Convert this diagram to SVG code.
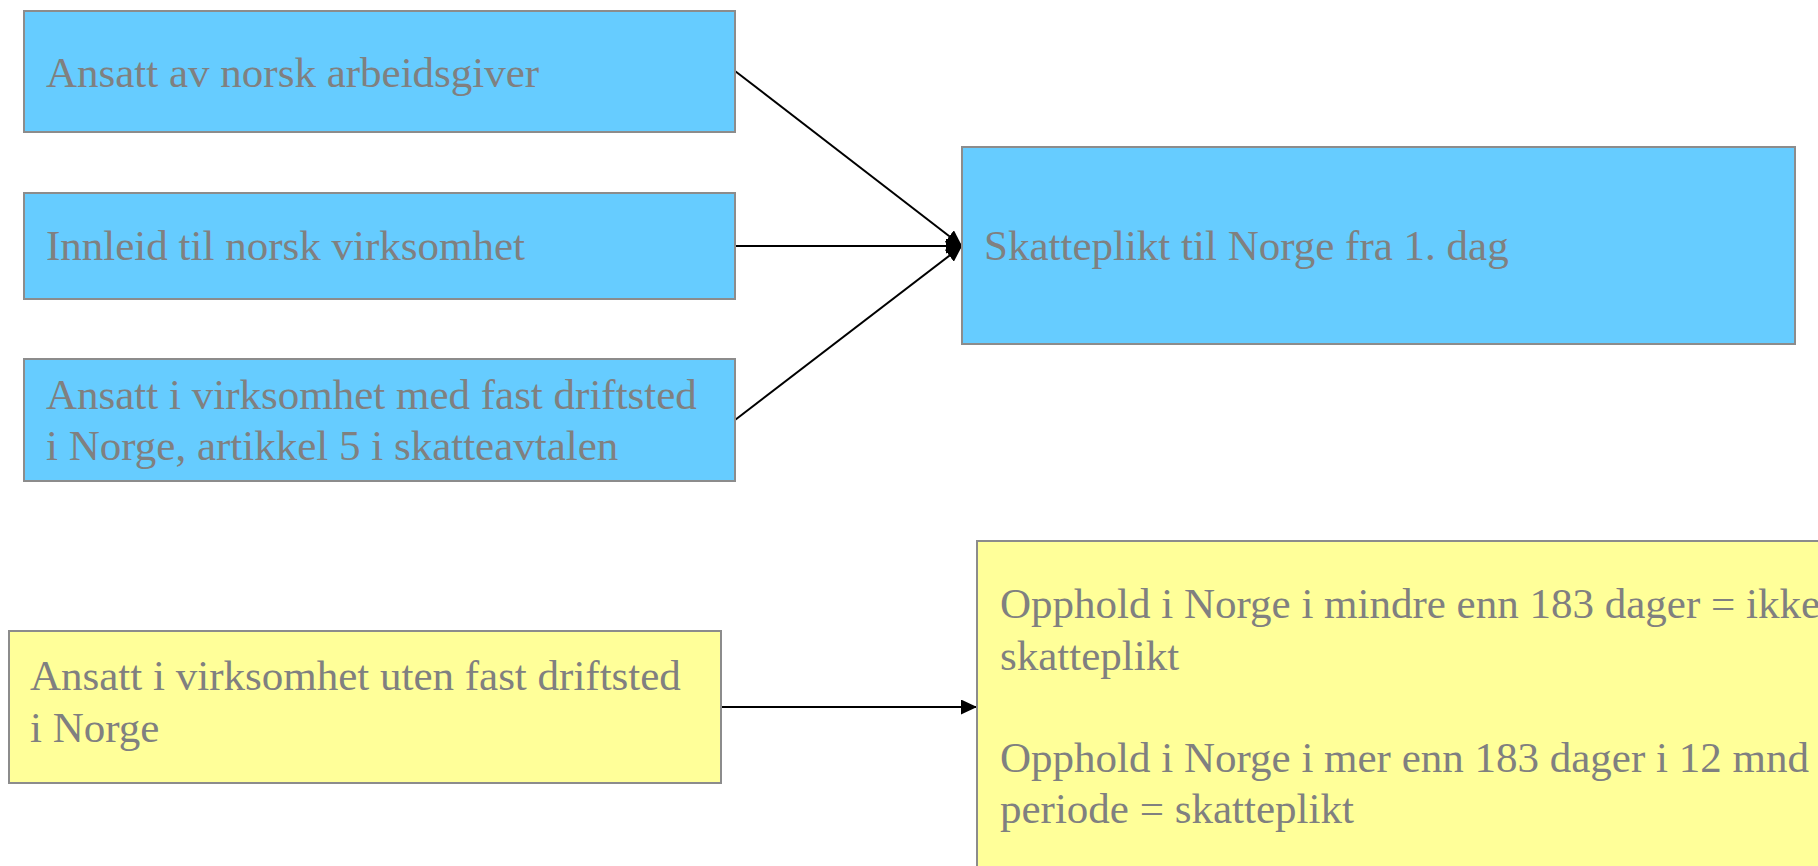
<svg xmlns="http://www.w3.org/2000/svg" width="1818" height="866" viewBox="0 0 1818 866">
<style>
.blue{fill:#66CCFF;stroke:#8C8C8C;stroke-width:2}
.yellow{fill:#FFFF99;stroke:#8C8C8C;stroke-width:2}
.t{font-family:"Liberation Serif","Times New Roman",serif;font-size:43px;fill:#808080}
.c{stroke:#000;stroke-width:2;fill:none}
</style>
<defs>
<marker id="arr" markerUnits="userSpaceOnUse" markerWidth="16" markerHeight="15" refX="16" refY="7.5" orient="auto">
<path d="M0,0 L16,7.5 L0,15 Z" fill="#000"/>
</marker>
</defs>
<rect width="1818" height="866" fill="#fff"/>
<g id="connectors">
<line class="c" x1="735" y1="71" x2="962" y2="246" marker-end="url(#arr)"/>
<line class="c" x1="735" y1="246" x2="962" y2="246" marker-end="url(#arr)"/>
<line class="c" x1="735" y1="420" x2="962" y2="246" marker-end="url(#arr)"/>
<line class="c" x1="721" y1="707" x2="977" y2="707" marker-end="url(#arr)"/>
</g>
<g id="n1">
<rect class="blue" x="24" y="11" width="711" height="121"/>
<text class="t" x="46" y="87">Ansatt av norsk arbeidsgiver</text>
</g>
<g id="n2">
<rect class="blue" x="24" y="193" width="711" height="106"/>
<text class="t" x="46" y="260">Innleid til norsk virksomhet</text>
</g>
<g id="n3">
<rect class="blue" x="24" y="359" width="711" height="122"/>
<text class="t" x="46" y="409">Ansatt i virksomhet med fast driftsted</text>
<text class="t" x="46" y="460">i Norge, artikkel 5 i skatteavtalen</text>
</g>
<g id="n4">
<rect class="blue" x="962" y="147" width="833" height="197"/>
<text class="t" x="984" y="260">Skatteplikt til Norge fra 1. dag</text>
</g>
<g id="n5">
<rect class="yellow" x="9" y="631" width="712" height="152"/>
<text class="t" x="30" y="690">Ansatt i virksomhet uten fast driftsted</text>
<text class="t" x="30" y="742">i Norge</text>
</g>
<g id="n6">
<rect class="yellow" x="977" y="541" width="860" height="340"/>
<text class="t" x="1000" y="618">Opphold i Norge i mindre enn 183 dager = ikke</text>
<text class="t" x="1000" y="670">skatteplikt</text>
<text class="t" x="1000" y="772">Opphold i Norge i mer enn 183 dager i 12 mnd</text>
<text class="t" x="1000" y="823">periode = skatteplikt</text>
</g>
</svg>
